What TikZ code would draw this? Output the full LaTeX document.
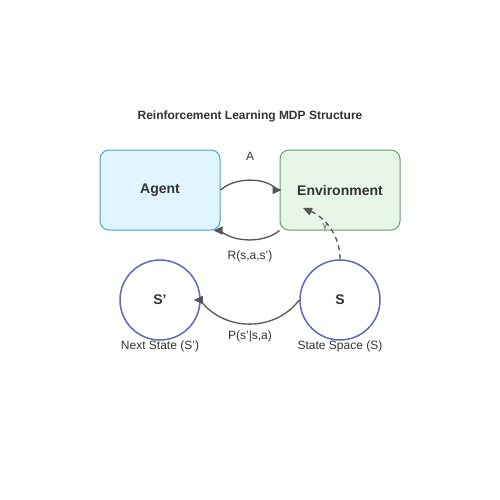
\documentclass[tikz,border=0pt]{standalone}
\usepackage{fontspec}
\setmainfont{Liberation Sans}
\usetikzlibrary{arrows.meta,calc}
\definecolor{txt}{HTML}{333333}
\definecolor{arr}{HTML}{555555}
\definecolor{agfill}{HTML}{E1F5FE}
\definecolor{agdraw}{HTML}{3AA6DD}
\definecolor{envfill}{HTML}{E8F5E9}
\definecolor{envdraw}{HTML}{5FA862}
\definecolor{stdraw}{HTML}{5C6BC0}
\tikzset{
  boxnode/.style={rectangle, rounded corners=9pt, minimum width=120pt, minimum height=80pt, line width=1pt, inner sep=0pt, font=\fontsize{14}{16}\selectfont\bfseries, text=txt},
  statenode/.style={circle, minimum size=80pt, inner sep=0pt, line width=1.5pt, draw=stdraw, fill=white, font=\fontsize{14}{16}\selectfont\bfseries, text=txt},
  lbl/.style={font=\fontsize{12}{14}\selectfont, text=txt, inner sep=0pt},
  conn/.style={draw=arr, line width=1.3pt},
  tipr/.style={draw=arr, line width=1.3pt, -{Triangle[length=9pt,width=8pt]}},
}
\begin{document}
\begin{tikzpicture}[x=1pt,y=-1pt]
\useasboundingbox[fill=white] (0,0) rectangle (500,500);
\node[lbl, font=\fontsize{12}{14}\selectfont\bfseries] (title) at (250,116) {Reinforcement Learning MDP Structure};
\node[boxnode, draw=agdraw, fill=agfill] (agent) at (160,190) {Agent};
\node[boxnode, draw=envdraw, fill=envfill] (env) at (340,190) {Environment};
\node[statenode] (sp) at (160,300) {S'};
\node[statenode] (s) at (340,300) {S};
\node[lbl] (la) at (250,156) {A};
\node[lbl] (lr) at (250,256) {R(s,a,s')};
\node[lbl] (lp) at (250,336) {P(s'|s,a)};
\node[lbl] (lsp) at (160,346) {Next State (S')};
\node[lbl] (ls) at (340,346) {State Space (S)};
\coordinate (gend) at ($(env.center)+(-37,18)$);
\draw[conn] (agent.east) .. controls (235,177) and (265,177) .. ($(env.west)+(-3,-1)$);
\draw[tipr] ($(env.west)+(0,0)$) -- ($(env.west)+(2,0)$);
\draw[conn] (env.south west) .. controls (265,243) and (235,243) .. ($(agent.south east)+(0,0.5)$);
\draw[tipr] ($(agent.south east)+(-5,0)$) -- ($(agent.south east)+(-7,0)$);
\draw[conn] (s.west) .. controls (275,332) and (225,332) .. ($(sp.east)+(0,1)$);
\draw[tipr] ($(sp.east)+(-5,0)$) -- ($(sp.east)+(-7,0)$);
\draw[tipr, dashed, dash pattern=on 5pt off 4pt] (s.north) .. controls (340,236) and (326,218) .. (gend);
\node[lbl, font=\fontsize{9}{10}\selectfont, text=arr] (lg) at (325,227) {γ};
\end{tikzpicture}
\end{document}
